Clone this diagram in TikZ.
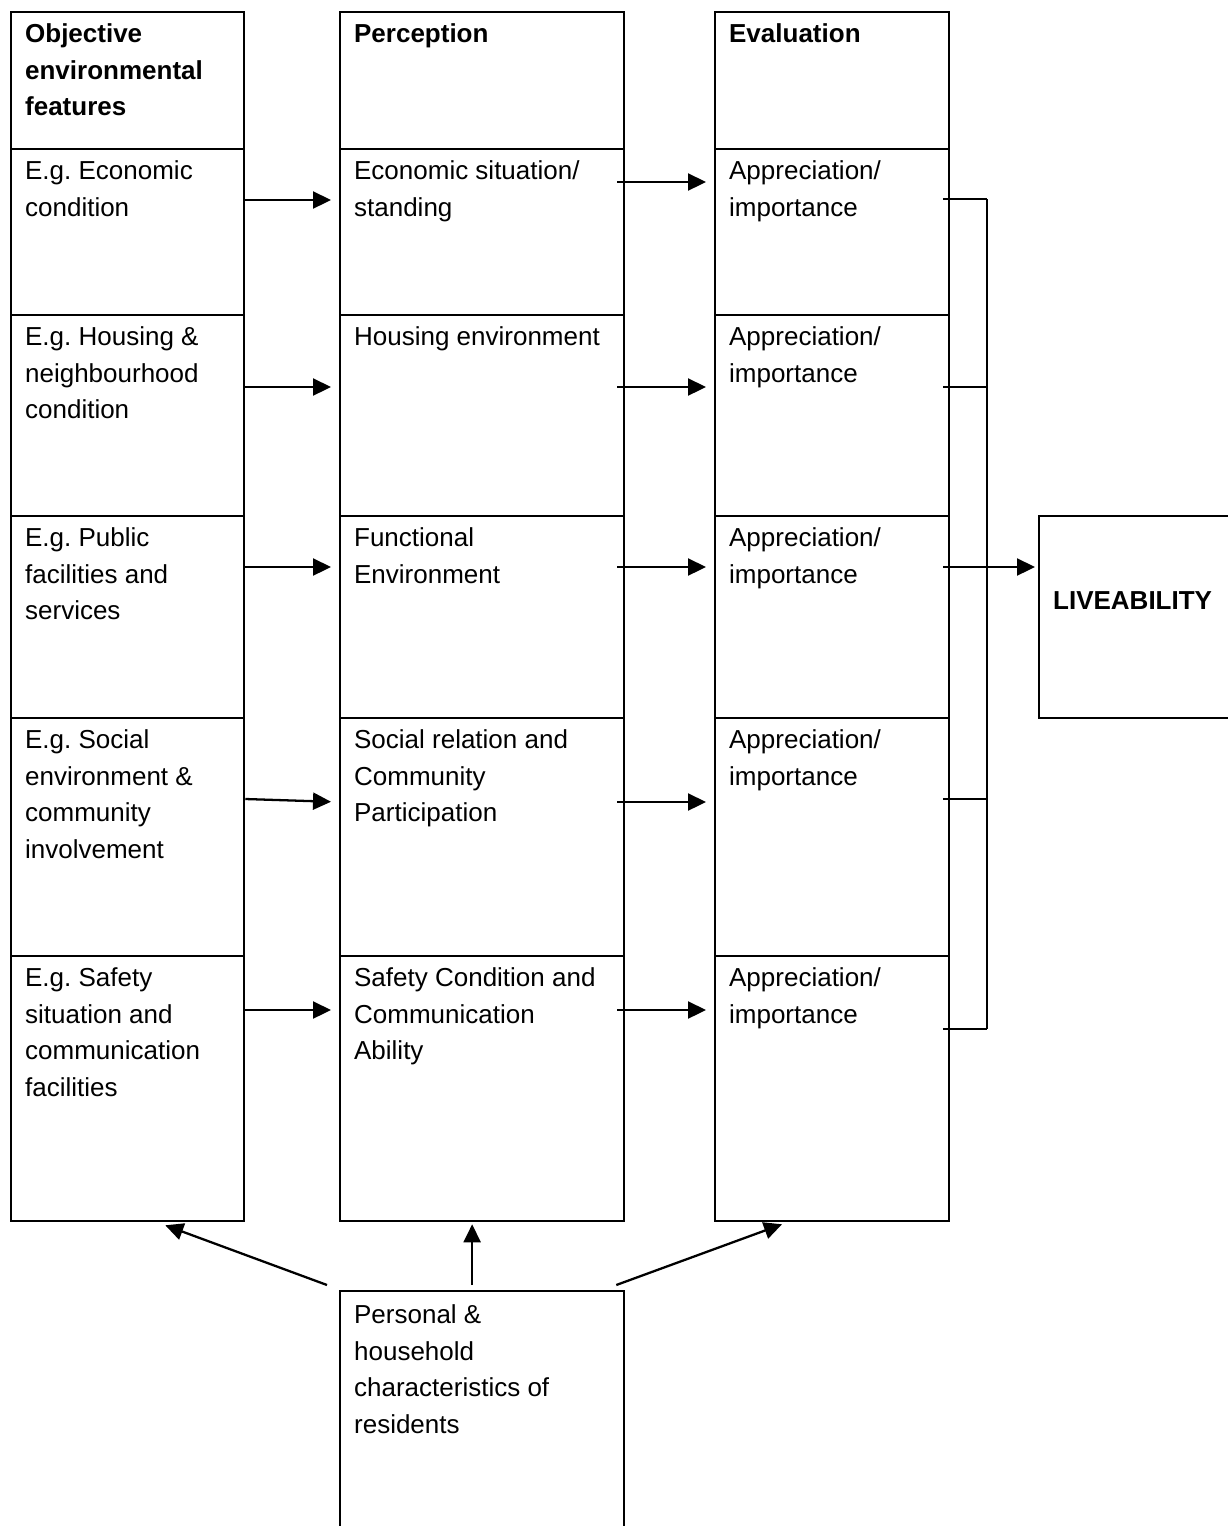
\documentclass[tikz,border=0pt]{standalone}
\usepackage{fontspec}
\setmainfont{Liberation Sans}
\usepackage{tikz}
\usetikzlibrary{arrows.meta}
\usetikzlibrary{calc}
\frenchspacing
\newdimen\px
\px=0.02cm
\newcommand{\boxcell}[7][30]{%
  \node[cellbox] (#2) at (#3,#4)
    {\parbox[t][#6\px][t]{\dimexpr #5\px-28\px\relax}{\raggedright\rule{0pt}{#1\px}#7}};}

\begin{document}
\begin{tikzpicture}[x=0.02cm,y=-0.02cm,
    cellbox/.style={draw,line width=1.3pt,anchor=north west,inner xsep=0.28cm,inner ysep=0pt,
      font=\fontsize{14.8}{21}\selectfont},
    arrow/.style={-{Triangle[length=0.36cm,width=0.34cm]},line width=1.3pt,shorten >=0.16cm},
    bracketline/.style={line width=0.8pt}]
  \useasboundingbox (0,0) rectangle (1228,1526);
  \boxcell{h1}{10}{11}{233}{137}{\textbf{Objective\\environmental\\features}}
  \boxcell{h2}{339}{11}{284}{137}{\textbf{Perception}}
  \boxcell{h3}{714}{11}{234}{137}{\textbf{Evaluation}}
  \boxcell{e1}{10}{148}{233}{166}{E.g. Economic\\condition}
  \boxcell{e2}{10}{314}{233}{201}{E.g. Housing \&\\neighbourhood\\condition}
  \boxcell{e3}{10}{515}{233}{202}{E.g. Public\\facilities and\\services}
  \boxcell{e4}{10}{717}{233}{238}{E.g. Social\\environment \&\\community\\involvement}
  \boxcell{e5}{10}{955}{233}{265}{E.g. Safety\\situation and\\communication\\facilities}
  \boxcell{p1}{339}{148}{284}{166}{Economic situation/\\standing}
  \boxcell{p2}{339}{314}{284}{201}{Housing environment}
  \boxcell{p3}{339}{515}{284}{202}{Functional\\Environment}
  \boxcell{p4}{339}{717}{284}{238}{Social relation and\\Community\\Participation}
  \boxcell{p5}{339}{955}{284}{265}{Safety Condition and\\Communication\\Ability}
  \foreach \n/\y/\h in {1/148/166,2/314/201,3/515/202,4/717/238,5/955/265}{
    \boxcell{a\n}{714}{\y}{234}{\h}{Appreciation/\\importance}
  }
  \boxcell[93]{live}{1038}{515}{220}{202}{\textbf{LIVEABILITY}}
  \boxcell[32]{pers}{339}{1290}{284}{260}{Personal \&\\household\\characteristics of\\residents}

  \foreach \n/\ya/\yb/\yc in {1/200/200/182,2/387/387/387,3/567/567/567,4/799/802/802,5/1010/1010/1010}{
    \draw[arrow] (e\n.east |- 0,\ya) -- (p\n.west |- 0,\yb);
    \draw[arrow] ($(p\n.east |- 0,\yc)+(-8,0)$) -- (a\n.west |- 0,\yc);
  }

  \coordinate (jtop) at (987,199);
  \coordinate (jbot) at (987,1029);
  \draw[bracketline] (jtop) -- (jbot);
  \foreach \n/\y in {1/199,2/387,3/567,4/799,5/1029}
    \draw[bracketline] ($(a\n.east |- 0,\y)+(-7,0)$) -- (jtop |- 0,\y);
  \draw[arrow,shorten >=0.06cm] (jtop |- 0,567) -- (live.west |- 0,567);

  \path[arrow,shorten >=0pt]
    ($(pers.north west)+(-12,-5)$) edge ($(e5.south east)+(-80,3)$)
    ($(pers.north)+(-10,-5)$) edge ($(p5.south)+(-10,2)$)
    ($(pers.north east)+(-9,-5)$) edge ($(a5.south west)+(68,2)$);
\end{tikzpicture}
\end{document}
